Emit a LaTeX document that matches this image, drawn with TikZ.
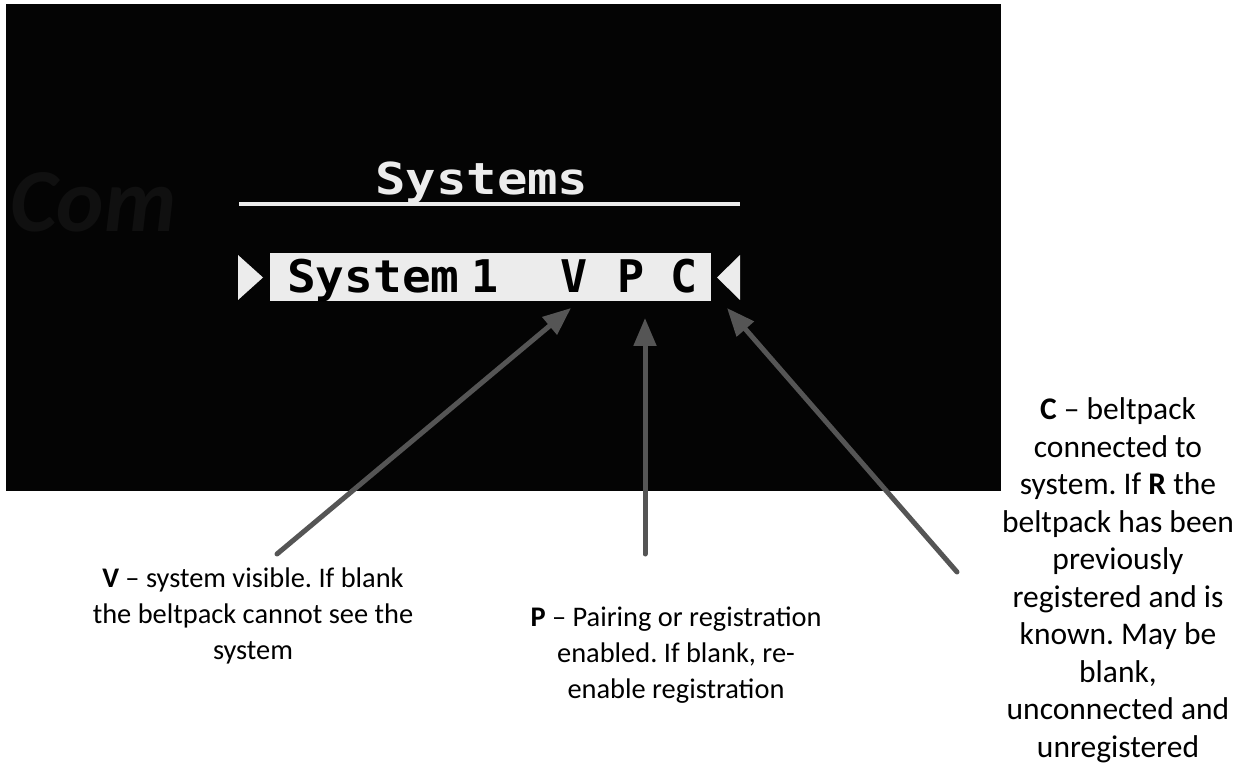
\documentclass[tikz,border=0pt]{standalone}
\usepackage{fontspec}
\usepackage{graphicx}
\setmainfont{Carlito}
\newfontfamily\pixfont{DejaVu Sans Mono}
\usetikzlibrary{arrows.meta}
\frenchspacing
\definecolor{screen}{RGB}{4,4,4}
\definecolor{pix}{RGB}{236,236,236}
\definecolor{arrgray}{RGB}{85,85,85}
\definecolor{ghost}{RGB}{16,16,16}
\tikzset{
  pointer/.style={draw=arrgray, line width=5pt, line cap=round, -{Triangle[length=28pt,width=22pt]}},
  note/.style={font=\fontsize{28.4}{36}\selectfont, inner sep=0pt, anchor=base, text=black},
  bignote/.style={font=\fontsize{31.5}{37.5}\selectfont, inner sep=0pt, anchor=base, text=black},
  bartext/.style={font=\pixfont\bfseries\fontsize{45}{45}\selectfont, text=black, inner sep=0pt, anchor=base west},
}
\begin{document}
\begin{tikzpicture}[x=1pt,y=-1pt]
\useasboundingbox (0,0) rectangle (1235,767);
\fill[white] (0,0) rectangle (1235,767);
% screen
\fill[screen] (6,4) rectangle (1001,491);
\node[font=\bfseries\itshape\fontsize{90}{90}\selectfont, text=ghost, anchor=base west, inner sep=0pt] (ghostL) at (10,232) {Com};
% title
\node[font=\pixfont\bfseries\fontsize{44}{44}\selectfont, text=pix, inner sep=0pt, anchor=base west] (title) at (375,195) {\scalebox{1.15}[1]{Systems}};
\draw[pix, line width=3.5pt] (239,204) -- (740,204);
% selection bar
\fill[pix] (270,253) rectangle (711,301);
\fill[pix] (238,255) -- (263,277.5) -- (238,300) -- cycle;
\fill[pix] (740,255) -- (717,277.5) -- (740,300) -- cycle;
\node[bartext] (sys) at (287,293) {\scalebox{1.06}[1]{System}};
\node[bartext] (one) at (471,293) {1};
\node[bartext] (lv) at (560,293) {V};
\node[bartext] (lp) at (617,293) {P};
\node[bartext] (lc) at (670,293) {C};
% notes (each line placed on its baseline)
\node[note] (v1) at (253,587) {\textbf{V} – system visible. If blank};
\node[note] (v2) at (253,623) {the beltpack cannot see the};
\node[note] (v3) at (253,659) {system};
\node[note] (p1) at (676,626) {\textbf{P} – Pairing or registration};
\node[note] (p2) at (676,662) {enabled. If blank, re-};
\node[note] (p3) at (676,698) {enable registration};
\node[bignote] (c1) at (1118,419.5) {\textbf{C} – beltpack};
\node[bignote] (c2) at (1118,457) {connected to};
\node[bignote] (c3) at (1118,494.5) {system. If \textbf{R} the};
\node[bignote] (c4) at (1118,532) {beltpack has been};
\node[bignote] (c5) at (1118,569.5) {previously};
\node[bignote] (c6) at (1118,607) {registered and is};
\node[bignote] (c7) at (1118,644.5) {known. May be};
\node[bignote] (c8) at (1118,682) {blank,};
\node[bignote] (c9) at (1118,719.5) {unconnected and};
\node[bignote] (c10) at (1118,757) {unregistered};
% pointers
\coordinate (vtail) at (277,554);
\coordinate (vtip) at (571,308);
\coordinate (ptail) at (645,554);
\coordinate (ptip) at (645,318);
\coordinate (ctail) at (957,572);
\coordinate (ctip) at (727,308);
\draw[pointer] (vtail) -- (vtip);
\draw[pointer] (ptail) -- (ptip);
\draw[pointer] (ctail) -- (ctip);
\end{tikzpicture}
\end{document}
